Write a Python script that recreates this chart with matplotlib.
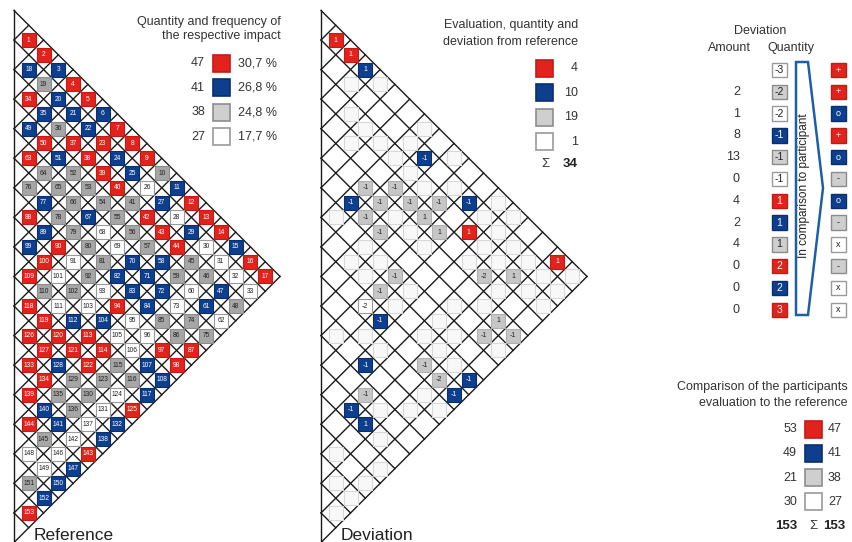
import matplotlib
matplotlib.use("Agg")
import matplotlib.pyplot as plt
from matplotlib.patches import Rectangle, Polygon

plt.rcParams['font.family'] = ['Liberation Sans', 'DejaVu Sans']

# reference evaluation, one string per diagonal row (R red, B blue, G gray, W white)
ref_rows = [
    "RRBRRBRRRGBRRRBRR",
    "BGBBBRBBWBWBWWWW",
    "RBGRRRRGRRRGGBG",
    "BRBGGGGGGBGWBW",
    "RGGGBWWBBBWGG",
    "GBGGGGBBBGGR",
    "RBRWGWRWWRR",
    "BRWGWBWWBB",
    "RGWBRRGGB",
    "RRRRRGWR",
    "RRBGGWB",
    "RRGGWB",
    "RBBWR",
    "RGWB",
    "WWB",
    "GB",
    "R",
]

# deviation of the participant from the reference (cell number -> value)
dev_cells = [1, 2, 3, 16, 43, 141, 24, 27, 77, 108, 112, 117, 128, 140,
             41, 53, 54, 65, 66, 75, 78, 79, 86, 92, 102, 115, 135,
             59, 116, 111, 46, 55, 56, 74]
dev_values = [1, 1, 1, 1, 1, 1, -1, -1, -1, -1, -1, -1, -1, -1,
              -1, -1, -1, -1, -1, -1, -1, -1, -1, -1, -1, -1, -1,
              -2, -2, -2, 1, 1, 1, 1]
# cells drawn faintly in the deviation triangle
faint_cells = [4, 7, 9, 12, 13, 17, 19, 23, 26, 28, 29, 30, 31, 32, 33, 35, 36,
               37, 38, 39, 40, 44, 45, 47, 48, 50, 58, 60, 67, 68, 69, 73, 84,
               87, 88, 90, 91, 93, 95, 96, 100, 101, 103, 105, 106, 107, 120,
               121, 124, 125, 126, 131, 136, 142, 147, 148, 150, 151, 152, 153]

impact_codes = ['R', 'B', 'G', 'W']
impact_counts = [47, 41, 38, 27]
impact_pct = ['30,7 %', '26,8 %', '24,8 %', '17,7 %']
dev_counts = [4, 10, 19, 1]
dev_total = 34

tab_levels = ['-3', '-2', '-2', '-1', '-1', '-1', '1', '1', '1', '2', '2', '3']
tab_codes = ['W', 'G', 'W', 'B', 'G', 'W', 'R', 'B', 'G', 'R', 'B', 'R']
tab_amount = ['', '2', '1', '8', '13', '0', '4', '2', '4', '0', '0', '0']
res_codes = ['R', 'R', 'B', 'R', 'B', 'G', 'B', 'G', 'W', 'G', 'W', 'W']
res_syms = ['+', '+', 'o', '+', 'o', '-', 'o', '-', 'x', '-', 'x', 'x']

comp_participant = [53, 49, 21, 30]
comp_reference = [47, 41, 38, 27]
comp_total = 153

fill = {'R': '#e2231d', 'B': '#0e3f8e', 'G': '#a6a6a6', 'W': '#ffffff'}
edge = {'R': '#c41a16', 'B': '#0a2f6c', 'G': '#8c8c8c', 'W': '#9a9a9a'}
light_gray = '#cfcfcf'
txt = '#333333'

H = 14.78      # half diagonal of a cell (px)
Y0 = 40.0      # centre of the first cell
N = 17


def cell_pos(x0, r, k):
    return x0 + H * (1 + k), Y0 + H * (2 * r + k)


def number_to_rk(num):
    n = num - 1
    for r in range(N):
        if n < N - r:
            return r, n
        n -= N - r


def draw_grid(ax, x0):
    for c in range(-2, 33, 2):
        u1 = (34 - c) / 2
        ax.plot([x0, x0 + H * u1], [Y0 + H * c, Y0 + H * (c + u1)], color='#1a1a1a', lw=1.0)
    for c in range(0, 35, 2):
        u1 = (c + 2) / 2
        ax.plot([x0, x0 + H * u1], [Y0 + H * c, Y0 + H * (c - u1)], color='#1a1a1a', lw=1.0)
    ax.plot([x0, x0], [Y0 - 2 * H, 542], color='#1a1a1a', lw=1.0)


def square(ax, cx, cy, s, code, fc=None, ec=None, lw=0.8):
    ax.add_patch(Rectangle((cx - s / 2, cy - s / 2), s, s,
                           facecolor=fc or fill[code], edgecolor=ec or edge[code],
                           lw=lw, zorder=3))


def label_color(code):
    return 'white' if code in ('R', 'B') else '#222222'


fig = plt.figure(figsize=(8.53, 5.42), dpi=100)
ax = fig.add_axes([0, 0, 1, 1])
ax.set_xlim(0, 853)
ax.set_ylim(542, 0)
ax.axis('off')

# ---- reference triangle
XL = 14
draw_grid(ax, XL)
num = 1
for r, row in enumerate(ref_rows):
    for k, code in enumerate(row):
        cx, cy = cell_pos(XL, r, k)
        square(ax, cx, cy, 14, code)
        ax.text(cx, cy, str(num), ha='center', va='center', fontsize=4.8,
                color=label_color(code), zorder=4)
        num += 1
ax.text(34, 536, 'Reference', fontsize=12.5, color='#222222', va='center')

# ---- deviation triangle
XR = 321
draw_grid(ax, XR)
for c in faint_cells:
    r, k = number_to_rk(c)
    cx, cy = cell_pos(XR, r, k)
    square(ax, cx, cy, 14, 'W', fc='#f8f8f8', ec='#d8d8d8', lw=0.8)
for c, v in zip(dev_cells, dev_values):
    r, k = number_to_rk(c)
    code = ref_rows[r][k]
    cx, cy = cell_pos(XR, r, k)
    if code == 'G':
        square(ax, cx, cy, 14, code, fc='#c6c6c6', ec='#b0b0b0')
    else:
        square(ax, cx, cy, 14, code)
    ax.text(cx, cy, str(v), ha='center', va='center', fontsize=5,
            color=label_color(code), zorder=4)
ax.text(341, 536, 'Deviation', fontsize=12.5, color='#222222', va='center')

# ---- legend: quantity and frequency
ax.text(281, 22, 'Quantity and frequency of', ha='right', va='center', fontsize=9, color=txt)
ax.text(281, 36, 'the respective impact', ha='right', va='center', fontsize=9, color=txt)
for i, code in enumerate(impact_codes):
    y = 63 + 24.6 * i
    fc = light_gray if code == 'G' else None
    square(ax, 222, y, 17, code, fc=fc, lw=1.2)
    ax.text(205, y, str(impact_counts[i]), ha='right', va='center', fontsize=9, color=txt)
    ax.text(238, y, impact_pct[i], ha='left', va='center', fontsize=9, color=txt)

# ---- legend: evaluation, quantity and deviation
ax.text(578, 25, 'Evaluation, quantity and', ha='right', va='center', fontsize=9, color=txt)
ax.text(578, 42, 'deviation from reference', ha='right', va='center', fontsize=9, color=txt)
for i, code in enumerate(impact_codes):
    y = 68 + 24.6 * i
    fc = light_gray if code == 'G' else None
    square(ax, 545, y, 17, code, fc=fc, lw=1.2)
    ax.text(578, y, str(dev_counts[i]), ha='right', va='center', fontsize=9, color=txt)
ax.text(545, 164, '\u03a3', ha='center', va='center', fontsize=9.5, color=txt)
ax.text(578, 164, str(dev_total), ha='right', va='center', fontsize=9.5,
        fontweight='bold', color='#222222')

# ---- deviation table
ax.text(760, 31, 'Deviation', ha='center', va='center', fontsize=9, color=txt)
ax.text(729, 48, 'Amount', ha='center', va='center', fontsize=9, color=txt)
ax.text(791, 48, 'Quantity', ha='center', va='center', fontsize=9, color=txt)
for i in range(len(tab_levels)):
    y = 70 + 21.8 * i
    code = tab_codes[i]
    fc = light_gray if code == 'G' else None
    square(ax, 779.5, y, 14.5, code, fc=fc, lw=1.0)
    ax.text(779.5, y, tab_levels[i], ha='center', va='center', fontsize=7.5,
            color=label_color(code), zorder=4)
    ax.text(740, y, tab_amount[i], ha='right', va='center', fontsize=9, color=txt)
    rc = res_codes[i]
    fc = light_gray if rc == 'G' else None
    square(ax, 838.5, y, 14.5, rc, fc=fc, lw=1.0)
    ax.text(838.5, y, res_syms[i], ha='center', va='center', fontsize=6.5,
            color=label_color(rc), zorder=4)

ax.add_patch(Polygon([(796, 62), (808, 62), (823, 188), (808, 315), (796, 315)],
                     closed=True, facecolor='white', edgecolor='#1f5fa8', lw=1.8, zorder=2))
ax.text(804, 186, 'In comparison to participant', rotation=90, ha='center', va='center',
        fontsize=8.5, color='#222222', zorder=3)

# ---- comparison legend
ax.text(848, 387, 'Comparison of the participants', ha='right', va='center', fontsize=9, color=txt)
ax.text(848, 403, 'evaluation to the reference', ha='right', va='center', fontsize=9, color=txt)
for i, code in enumerate(impact_codes):
    y = 429 + 24.3 * i
    fc = light_gray if code == 'G' else None
    square(ax, 814, y, 17, code, fc=fc, lw=1.2)
    ax.text(797, y, str(comp_participant[i]), ha='right', va='center', fontsize=9, color=txt)
    ax.text(828, y, str(comp_reference[i]), ha='left', va='center', fontsize=9, color=txt)
ax.text(797, 526, str(comp_total), ha='right', va='center', fontsize=9.5,
        fontweight='bold', color='#222222')
ax.text(813, 526, '\u03a3', ha='center', va='center', fontsize=9.5, color=txt)
ax.text(823, 526, str(comp_total), ha='left', va='center', fontsize=9.5,
        fontweight='bold', color='#222222')

fig.savefig('out.png', dpi=100)
